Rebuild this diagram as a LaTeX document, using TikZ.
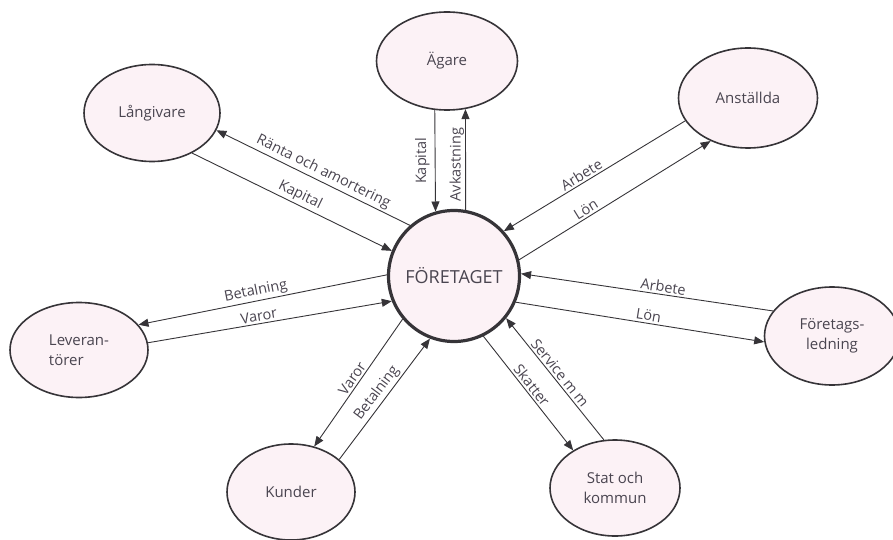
\documentclass[tikz,border=0pt]{standalone}
\usepackage{fontspec}
\setmainfont{Open Sans}
\usetikzlibrary{arrows.meta,shapes.geometric}
\definecolor{ink}{HTML}{363438}
\definecolor{txt}{HTML}{4A4550}
\definecolor{fillp}{HTML}{FCF2F6}
\begin{document}
\begin{tikzpicture}[x=1pt,y=-1pt,
  party/.style={ellipse, draw=ink, line width=1.6pt, fill=fillp, inner sep=0pt, text=txt, font=\fontsize{15}{20}\selectfont},
  core/.style={circle, draw=ink, line width=3.2pt, fill=fillp, minimum size=131pt, inner sep=0pt, text=txt, font=\fontsize{18}{20}\selectfont},
  flow/.style={draw=ink, line width=0.9pt, -{Triangle[length=10pt,width=8pt]}},
  lab/.style={sloped, above, inner sep=2pt, text=txt, font=\fontsize{14.5}{18}\selectfont},
  vlab/.style={rotate=90, anchor=south, text=txt, font=\fontsize{14.5}{18}\selectfont},
]
\useasboundingbox (0,0) rectangle (893,540);

\node[core] (F) at (454,276) {FÖRETAGET};
\node[party, minimum width=141pt, minimum height=98pt] (A) at (447,61) {Ägare};
\node[party, minimum width=136pt, minimum height=97pt] (L) at (152,113) {Långivare};
\node[party, minimum width=139pt, minimum height=100pt] (N) at (748,98) {Anställda};
\node[party, minimum width=138pt, minimum height=95pt, align=left] (V) at (79,350) {Leveran-\\törer};
\node[party, minimum width=135pt, minimum height=98pt, align=center] (G) at (832,336) {Företags-\\ledning};
\node[party, minimum width=128pt, minimum height=96pt] (K) at (291,492) {Kunder};
\node[party, minimum width=130pt, minimum height=96pt, align=center] (S) at (615,488) {Stat och\\kommun};

% Långivare
\draw[flow] (F.131.8) -- node[lab,pos=0.47]{Ränta och amortering} (L.-15.6);
\draw[flow] (L.-45) -- node[lab,pos=0.52]{Kapital} (F.158.7);
% Ägare
\draw[flow] (A.-104) -- node[vlab,pos=0.5,inner sep=5pt]{Kapital} (F.106.5);
\draw[flow] (F.80.6) -- node[vlab,pos=0.45,inner sep=1pt]{Avkastning} (A.-69.2);
% Anställda
\draw[flow] (N.200.8) -- node[lab,pos=0.55]{Arbete} (F.42.2);
\draw[flow] (F.14.7) -- node[lab,pos=0.37]{Lön} (N.-131.3);
% Leverantörer
\draw[flow] (F.179.2) -- node[lab,pos=0.52]{Betalning} (V.23.6);
\draw[flow] (V.6.4) -- node[lab,pos=0.46]{Varor} (F.202);
% Företagsledning
\draw[flow] (G.157.3) -- node[lab,pos=0.44]{Arbete} (F.2.4);
\draw[flow] (F.-23.8) -- node[lab,pos=0.53]{Lön} (G.185.3);
% Kunder
\draw[flow] (F.-140.8) -- node[lab,pos=0.5]{Varor} (K.63.4);
\draw[flow] (K.34.4) -- node[lab,pos=0.5]{Betalning} (F.-111.2);
% Stat och kommun
\draw[flow] (F.-64.6) -- node[lab,pos=0.47]{Skatter} (S.138.8);
\draw[flow] (S.103.5) -- node[lab,pos=0.51]{Service m m} (F.-39.2);
\end{tikzpicture}
\end{document}
